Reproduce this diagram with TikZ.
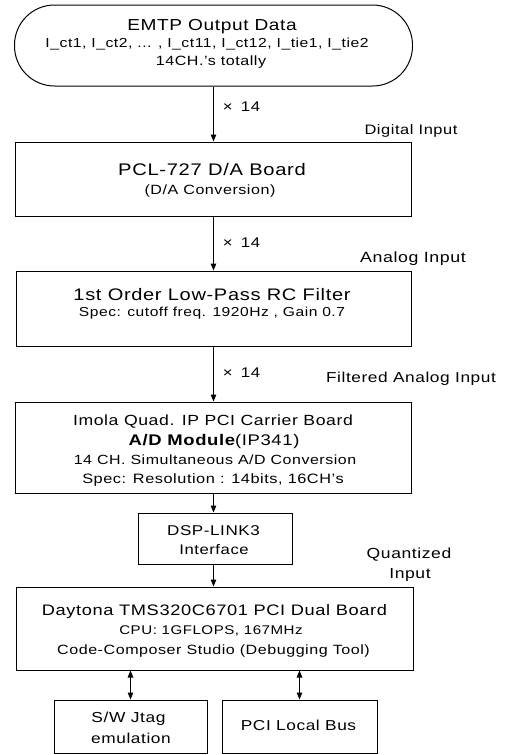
\documentclass[tikz,border=0pt]{standalone}
\usepackage{fontspec}
\setmainfont[FakeStretch=1.2,LetterSpace=4]{Liberation Sans}
\usetikzlibrary{arrows.meta}
\tikzset{
  bx/.style={draw, line width=1pt, inner sep=0pt},
  arr/.style={line width=1pt, -{Triangle[length=7pt,width=5.5pt]}},
  darr/.style={line width=1pt, {Triangle[length=7pt,width=5.5pt]}-{Triangle[length=7pt,width=5.5pt]}}
}
\newcommand\txtnode[5]{\node[anchor=base, inner sep=0pt, font=\fontsize{#4}{#4}\selectfont] (#1) at (#2,{-(#3)-0.358*(#4)}) {#5};}
\newcommand\boxnode[5]{\node[bx, minimum width=#4pt, minimum height=#5pt] (#1) at (#2,-#3) {};}
\begin{document}
\begin{tikzpicture}[x=1pt,y=1pt]
\useasboundingbox (0,0) rectangle (509,-755);
% top terminal
\node[bx, rounded corners=40pt, minimum width=398pt, minimum height=81pt] (src) at (213.5,-45.5) {};
\txtnode{s1}{212}{25}{15.9}{EMTP Output Data}
\txtnode{s2}{207}{43}{13.1}{I\_ct1, I\_ct2, ... , I\_ct11, I\_ct12, I\_tie1, I\_tie2}
\txtnode{s3}{211}{61}{13.4}{14CH.'s totally}
% boxes
\boxnode{da}{213.5}{179}{396}{74}
\txtnode{da1}{212}{169}{16.8}{PCL-727 D/A Board}
\txtnode{da2}{210}{190}{13.4}{(D/A Conversion)}
\boxnode{rc}{213.5}{308.5}{395}{75}
\txtnode{rc1}{212}{295}{16.7}{1st Order Low-Pass RC Filter}
\txtnode{rc2}{212}{312}{13}{Spec: cutoff freq. 1920Hz , Gain 0.7}
\boxnode{ad}{213.5}{447.5}{396}{91}
\txtnode{ad1}{213}{420}{14.7}{Imola Quad. IP PCI Carrier Board}
\txtnode{ad2}{214}{440}{15.4}{{\bfseries A/D Module}(IP341)}
\txtnode{ad3}{215}{460}{13.3}{14 CH. Simultaneous A/D Conversion}
\txtnode{ad4}{213}{479}{13.6}{Spec: Resolution : 14bits, 16CH's}
\boxnode{dl}{215}{538.5}{154}{51}
\txtnode{dl1}{213.5}{530}{14.2}{DSP-LINK3}
\txtnode{dl2}{214}{550}{13.9}{Interface}
\boxnode{dsp}{214.5}{628.5}{397}{83}
\txtnode{dsp1}{214.5}{610}{15.2}{Daytona TMS320C6701 PCI Dual Board}
\txtnode{dsp2}{211}{630}{12.6}{CPU: 1GFLOPS, 167MHz}
\txtnode{dsp3}{213.5}{650}{13.4}{Code-Composer Studio (Debugging Tool)}
\boxnode{jt}{130.5}{726.5}{153}{53}
\txtnode{jt1}{128.5}{717}{14.5}{S/W Jtag}
\txtnode{jt2}{131}{738}{14.4}{emulation}
\boxnode{pci}{299.5}{726.5}{155}{53}
\txtnode{pci1}{298.5}{725}{14.4}{PCI Local Bus}
% side labels
\txtnode{l1}{411}{130}{13.7}{Digital Input}
\txtnode{l2}{413}{257}{14.8}{Analog Input}
\txtnode{l3}{411}{377}{14.4}{Filtered Analog Input}
\txtnode{l4}{409}{553}{14.6}{Quantized}
\txtnode{l5}{410}{573}{14.6}{Input}
\txtnode{x1}{241.5}{106}{14}{×\hspace{0.6em}14}
\txtnode{x2}{241.5}{242}{14}{×\hspace{0.6em}14}
\txtnode{x3}{241.5}{372}{14}{×\hspace{0.6em}14}
% connectors
\draw[arr] (src.south) -- (da.north);
\draw[arr] (da.south) -- (rc.north);
\draw[arr] (rc.south) -- (ad.north);
\draw[arr] (ad.south) -- (ad.south |- dl.north);
\draw[arr] (ad.south |- dl.south) -- (ad.south |- dsp.north);
\draw[darr] (jt.north) -- (jt.north |- dsp.south);
\draw[darr] (pci.north) -- (pci.north |- dsp.south);
\end{tikzpicture}
\end{document}
